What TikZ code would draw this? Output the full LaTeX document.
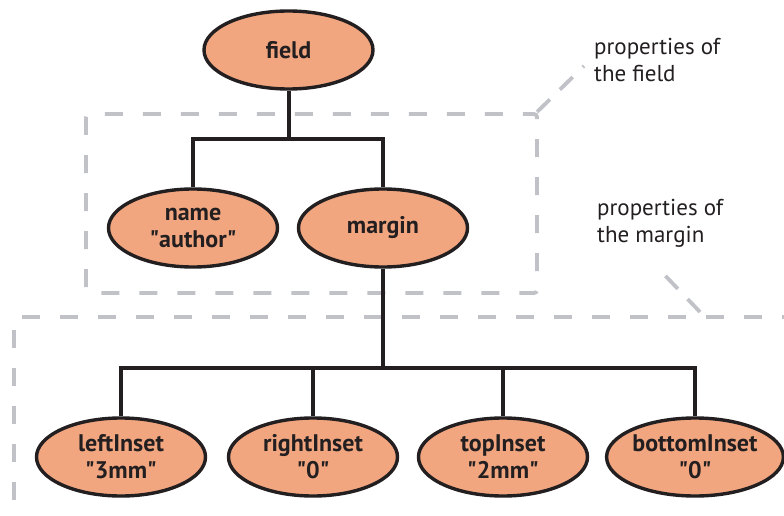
\documentclass[tikz,border=0pt]{standalone}
\usepackage{fontspec}
\setmainfont{PT Sans}
\usetikzlibrary{shapes.geometric}
\definecolor{ink}{HTML}{231F20}
\definecolor{salmon}{HTML}{F1A680}
\definecolor{dashgray}{HTML}{C0C2C8}
\newcommand{\qq}[1]{\textquotedbl#1\textquotedbl}
\tikzset{
  elem/.style={ellipse, draw=ink, line width=3.4pt, fill=salmon, inner sep=0pt,
    minimum width=169pt, minimum height=78pt, align=center, text=ink,
    font=\fontsize{24}{27}\selectfont\bfseries},
  conn/.style={draw=ink, line width=4pt},
  dashbox/.style={draw=dashgray, line width=3.8pt, dash pattern=on 18pt off 20pt,
    rounded corners=3pt},
  leader/.style={draw=dashgray, line width=3.8pt, dash pattern=on 18pt off 14pt},
  note/.style={align=left, text=ink, inner sep=0pt, anchor=north west,
    font=\fontsize{23}{27.5}\selectfont}
}
\begin{document}
\begin{tikzpicture}[x=1pt,y=-1pt]
\useasboundingbox (0,0) rectangle (784,516);
\begin{scope}
\clip (0,0) rectangle (784,516);
% grouping frames
\draw[dashbox] (86,114) rectangle (537,293);
\draw[dashbox] (800,317) -- (14,317) -- (14,540);
\coordinate (fcorner) at (537,112);
\coordinate (fend) at (584,66);
\coordinate (mcorner) at (700,312);
\coordinate (mend) at (656,266);
\draw[leader] (fcorner) -- (fend);
\draw[leader] (mcorner) -- (mend);
\end{scope}
% annotations
\node[note] (fnote) at (594,38) {properties of\\the field};
\node[note] (mnote) at (597,199) {properties of\\the margin};
% tree nodes
\node[elem] (field)  at (288.5,50) {field};
\node[elem] (name)   at (193,228) {name\\\qq{author}};
\node[elem] (margin) at (383,228) {margin};
\node[elem] (left)   at (121,457) {leftInset\\\qq{3mm}};
\node[elem] (right)  at (313,457) {rightInset\\\qq{0}};
\node[elem] (top)    at (503,457) {topInset\\\qq{2mm}};
\node[elem] (bottom) at (695,457) {bottomInset\\\qq{0}};
% connectors
\coordinate (bar1) at (288.5,139);
\coordinate (bar2) at (383,368);
\draw[conn] (field.south) -- (bar1);
\draw[conn] (name.north) |- (bar1) -| (margin.north);
\draw[conn] (margin.south) -- (bar2);
\draw[conn] (left.north) |- (bar2) -| (bottom.north);
\draw[conn] (right.north) -- (right.north |- bar2);
\draw[conn] (top.north) -- (top.north |- bar2);
\end{tikzpicture}
\end{document}
